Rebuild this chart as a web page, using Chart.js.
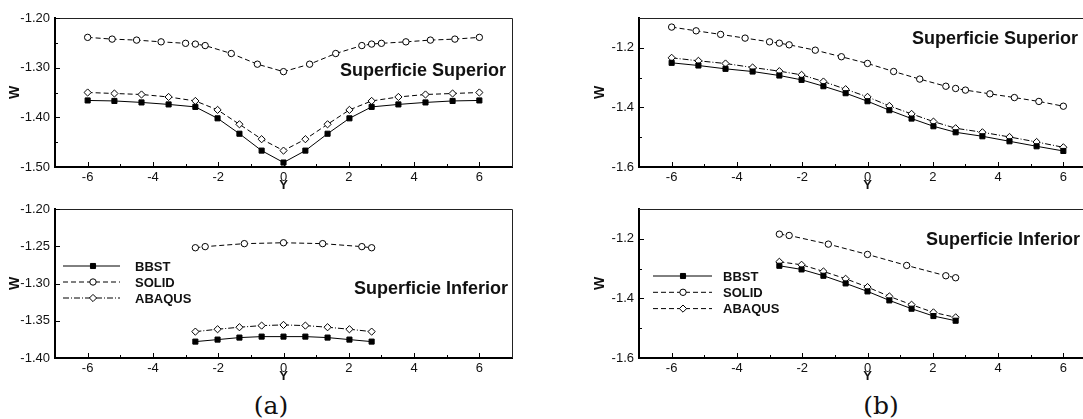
<!DOCTYPE html>
<html>
<head>
<meta charset="utf-8">
<script src="https://cdn.jsdelivr.net/npm/chart.js@4.4.1/dist/chart.umd.min.js"></script>
<style>
  body { margin: 0; width: 1083px; height: 419px; overflow: hidden; background: #fff; position: relative;
         font-family: "Liberation Sans", Arial, sans-serif; }
  canvas { position: absolute; }
  .lbl { position: absolute; font-weight: bold; font-size: 18px; transform: translate(-50%, -50%);
         white-space: nowrap; color: #111; }
  .cap { position: absolute; font-family: "DejaVu Serif", serif; font-size: 25px; transform: translate(-50%, -50%); color: #111; }
</style>
</head>
<body>
<canvas id="supA" width="530" height="195" style="left:0;top:0"></canvas>
<canvas id="infA" width="530" height="191" style="left:0;top:195px"></canvas>
<canvas id="supB" width="525" height="195" style="left:585px;top:0"></canvas>
<canvas id="infB" width="525" height="191" style="left:585px;top:195px"></canvas>

<div class="lbl" style="left:423px;top:70px">Superficie Superior</div>
<div class="lbl" style="left:431px;top:288px">Superficie Inferior</div>
<div class="lbl" style="left:995px;top:38px">Superficie Superior</div>
<div class="lbl" style="left:1003px;top:239px">Superficie Inferior</div>
<div class="cap" style="left:271px;top:405px">(a)</div>
<div class="cap" style="left:881px;top:405px">(b)</div>

<script>
// series and axes
const seriesNames = ['BBST', 'SOLID', 'ABAQUS'];

const xSolidSup = [-6, -5.25, -4.5, -3.75, -3, -2.7, -2.4, -1.6, -0.8, 0, 0.8, 1.6, 2.4, 2.7, 3, 3.75, 4.5, 5.25, 6];
const xFemSup = [-6, -5.18, -4.35, -3.52, -2.7, -2.02, -1.35, -0.67, 0, 0.67, 1.35, 2.02, 2.7, 3.52, 4.35, 5.18, 6];
const xSolidInf = [-2.7, -2.4, -1.2, 0, 1.2, 2.4, 2.7];
const xFemInf = [-2.7, -2.02, -1.35, -0.67, 0, 0.67, 1.35, 2.02, 2.7];

// (a) superficie superior
const bbstSupA = [-1.366, -1.367, -1.370, -1.374, -1.379, -1.402, -1.433, -1.467, -1.491, -1.467, -1.433, -1.402, -1.379, -1.374, -1.370, -1.367, -1.366];
const solidSupA = [-1.239, -1.2425, -1.2445, -1.248, -1.251, -1.2525, -1.2555, -1.2715, -1.293, -1.308, -1.293, -1.2715, -1.2555, -1.2525, -1.251, -1.248, -1.2445, -1.2425, -1.239];
const abaqusSupA = [-1.350, -1.352, -1.354, -1.359, -1.367, -1.385, -1.414, -1.444, -1.467, -1.444, -1.414, -1.385, -1.367, -1.359, -1.354, -1.352, -1.350];

// (a) superficie inferior
const bbstInfA = [-1.378, -1.3753, -1.3726, -1.3713, -1.3713, -1.3713, -1.3726, -1.3753, -1.378];
const solidInfA = [-1.252, -1.2505, -1.2465, -1.2453, -1.2465, -1.2505, -1.252];
const abaqusInfA = [-1.3646, -1.3614, -1.3587, -1.3565, -1.3556, -1.3565, -1.3587, -1.3614, -1.3646];

// (b) superficie superior
const bbstSupB = [-1.2504, -1.2594, -1.2706, -1.2796, -1.293, -1.3076, -1.3289, -1.3524, -1.3793, -1.4095, -1.4375, -1.4633, -1.4835, -1.4969, -1.5137, -1.5305, -1.5462];
const solidSupB = [-1.1305, -1.143, -1.155, -1.1675, -1.18, -1.1845, -1.19, -1.208, -1.230, -1.2525, -1.2795, -1.305, -1.329, -1.3365, -1.342, -1.3545, -1.367, -1.380, -1.396];
const abaqusSupB = [-1.2336, -1.2437, -1.2527, -1.2661, -1.2784, -1.2908, -1.3132, -1.3389, -1.3647, -1.395, -1.4218, -1.4476, -1.47, -1.4835, -1.4992, -1.516, -1.5339];

// (b) superficie inferior
const bbstInfB = [-1.2905, -1.3028, -1.324, -1.3497, -1.3765, -1.4067, -1.4346, -1.4592, -1.4749];
const solidInfB = [-1.1844, -1.1888, -1.2179, -1.2525, -1.2894, -1.324, -1.3307];
const abaqusInfB = [-1.2771, -1.2872, -1.3095, -1.3341, -1.362, -1.3933, -1.4212, -1.4469, -1.4637];

// ticks
const xMajor = [-6, -4, -2, 0, 2, 4, 6];
const xMinor = [-5, -3, -1, 1, 3, 5];
const yMajorSupA = [-1.5, -1.4, -1.3, -1.2];
const yMinorSupA = [-1.45, -1.35, -1.25];
const yMajorInfA = [-1.4, -1.35, -1.3, -1.25, -1.2];
const yMajorB = [-1.6, -1.4, -1.2];
const yMinorB = [-1.5, -1.3];

const FONT = '"Liberation Sans", Arial, sans-serif';
const dashed = [5, 3];
const dashDot = [6, 2, 1, 2];

function pts(xs, ys) {
  return ys.map((v, i) => ({ x: xs[i], y: v }));
}

function series(bbst, solid, abaqus, xsFem, xsSolid, abaqusDash) {
  const common = { borderColor: '#000', borderWidth: 1, pointBorderColor: '#000', pointBorderWidth: 1, tension: 0 };
  return [
    Object.assign({ label: seriesNames[0], data: pts(xsFem, bbst), pointStyle: 'rect',
      pointRadius: 3.6, pointBackgroundColor: '#000' }, common),
    Object.assign({ label: seriesNames[1], data: pts(xsSolid, solid), borderDash: dashed, pointStyle: 'circle',
      pointRadius: 3.2, pointBackgroundColor: '#fff' }, common),
    Object.assign({ label: seriesNames[2], data: pts(xsFem, abaqus), borderDash: abaqusDash, pointStyle: 'rectRot',
      pointRadius: 3.6, pointBackgroundColor: '#fff' }, common)
  ];
}

// inward ticks + top/right frame
const frameTicks = {
  id: 'frameTicks',
  afterDatasetsDraw(chart, args, opts) {
    const { ctx, chartArea: a, scales: { x, y } } = chart;
    ctx.save();
    ctx.strokeStyle = '#222';
    ctx.lineWidth = 1;
    ctx.beginPath();
    ctx.moveTo(a.left, a.top + 0.5);
    ctx.lineTo(a.right + 0.5, a.top + 0.5);
    ctx.lineTo(a.right + 0.5, a.bottom);
    ctx.stroke();
    ctx.strokeStyle = '#000';
    ctx.beginPath();
    const tick = (vals, len, horiz) => vals.forEach(v => {
      if (horiz) {
        const p = Math.round(x.getPixelForValue(v)) + 0.5;
        ctx.moveTo(p, a.bottom); ctx.lineTo(p, a.bottom - len);
      } else {
        const p = Math.round(y.getPixelForValue(v)) + 0.5;
        ctx.moveTo(a.left, p); ctx.lineTo(a.left + len, p);
      }
    });
    tick(xMajor, 5, true);
    tick(xMinor, 3, true);
    tick(opts.yMajor, 5, false);
    tick(opts.yMinor || [], 3, false);
    ctx.stroke();
    ctx.restore();
  }
};

// legend with line sample and marker
const lineLegend = {
  id: 'lineLegend',
  afterDraw(chart, args, opts) {
    const ctx = chart.ctx;
    ctx.save();
    chart.data.datasets.forEach((ds, i) => {
      const yy = opts.y0 + i * opts.dy;
      ctx.strokeStyle = '#000';
      ctx.lineWidth = 1;
      ctx.setLineDash(ds.borderDash || []);
      ctx.beginPath();
      ctx.moveTo(opts.x0, yy); ctx.lineTo(opts.x1, yy);
      ctx.stroke();
      ctx.setLineDash([]);
      ctx.fillStyle = ds.pointBackgroundColor;
      const r = ds.pointRadius;
      const mx = opts.mx;
      ctx.beginPath();
      if (ds.pointStyle === 'rect') {
        const s = r * Math.SQRT1_2;
        ctx.rect(mx - s, yy - s, 2 * s, 2 * s);
      } else if (ds.pointStyle === 'circle') {
        ctx.arc(mx, yy, r, 0, Math.PI * 2);
      } else {
        ctx.moveTo(mx, yy - r); ctx.lineTo(mx + r, yy); ctx.lineTo(mx, yy + r); ctx.lineTo(mx - r, yy);
        ctx.closePath();
      }
      ctx.fill(); ctx.stroke();
      ctx.fillStyle = '#111';
      ctx.font = 'bold 13px ' + FONT;
      ctx.textBaseline = 'middle';
      ctx.fillText(ds.label, opts.tx, yy + 1);
    });
    ctx.restore();
  }
};

function makeChart(id, datasets, cfg) {
  const plugins = [frameTicks];
  if (cfg.legend) plugins.push(lineLegend);
  return new Chart(document.getElementById(id), {
    type: 'line',
    data: { datasets: datasets },
    options: {
      responsive: false,
      animation: false,
      devicePixelRatio: 1,
      layout: { padding: { top: cfg.padTop, right: cfg.padRight, left: 0, bottom: 0 } },
      plugins: {
        legend: { display: false },
        tooltip: { enabled: false },
        frameTicks: { yMajor: cfg.yMajor, yMinor: cfg.yMinor },
        lineLegend: cfg.legend || {}
      },
      scales: {
        x: {
          type: 'linear', min: -7, max: 7,
          afterBuildTicks: s => { s.ticks = xMajor.map(v => ({ value: v })); },
          afterFit: s => { s.height = 28; },
          grid: { display: false, drawTicks: false },
          border: { display: true, color: '#000', width: 2 },
          ticks: { autoSkip: false, maxRotation: 0, padding: 3, color: '#111', font: { family: FONT, size: 13 } },
          title: { display: true, text: 'Y', color: '#111', padding: { top: 0, bottom: 2 },
                   font: { family: FONT, size: 13, weight: 'bold' } }
        },
        y: {
          type: 'linear', min: cfg.yMin, max: cfg.yMax,
          afterBuildTicks: s => { s.ticks = cfg.yMajor.map(v => ({ value: v })); },
          afterFit: s => { s.width = cfg.yWidth; },
          grid: { display: false, drawTicks: false },
          border: { display: true, color: '#000', width: 2 },
          ticks: { autoSkip: false, padding: 5, color: '#111', font: { family: FONT, size: 13 },
                   callback: v => v.toFixed(cfg.dec) },
          title: { display: true, text: 'W', color: '#111', padding: { top: 6.6, bottom: 0 },
                   font: { family: FONT, size: 14, weight: 'bold' } }
        }
      }
    },
    plugins: plugins
  });
}

makeChart('supA', series(bbstSupA, solidSupA, abaqusSupA, xFemSup, xSolidSup, dashed),
  { padTop: 18, padRight: 18, yWidth: 55, yMin: -1.5, yMax: -1.2, yMajor: yMajorSupA, yMinor: yMinorSupA, dec: 2 });

makeChart('infA', series(bbstInfA, solidInfA, abaqusInfA, xFemInf, xSolidInf, dashDot),
  { padTop: 14, padRight: 18, yWidth: 55, yMin: -1.4, yMax: -1.2, yMajor: yMajorInfA, dec: 2,
    legend: { x0: 63, x1: 120, mx: 93, tx: 135, y0: 71, dy: 16 } });

makeChart('supB', series(bbstSupB, solidSupB, abaqusSupB, xFemSup, xSolidSup, dashDot),
  { padTop: 18, padRight: 14, yWidth: 54, yMin: -1.6, yMax: -1.1, yMajor: yMajorB, yMinor: yMinorB, dec: 1 });

makeChart('infB', series(bbstInfB, solidInfB, abaqusInfB, xFemInf, xSolidInf, dashed),
  { padTop: 14, padRight: 14, yWidth: 54, yMin: -1.6, yMax: -1.1, yMajor: yMajorB, yMinor: yMinorB, dec: 1,
    legend: { x0: 68, x1: 127, mx: 98, tx: 138, y0: 81, dy: 16.3 } });
</script>
</body>
</html>
